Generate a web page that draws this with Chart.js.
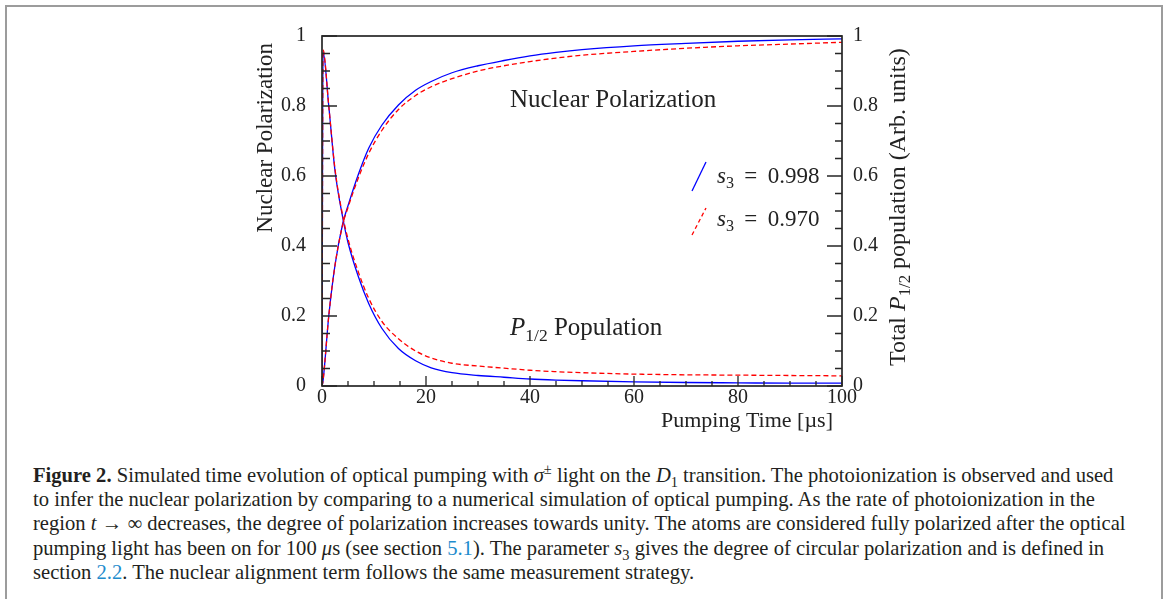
<!DOCTYPE html>
<html>
<head>
<meta charset="utf-8">
<script src="https://cdn.jsdelivr.net/npm/chart.js@4.4.1/dist/chart.umd.min.js"></script>
<style>
  html, body { margin: 0; padding: 0; overflow: hidden; background: #fff; }
  #frame { position: absolute; left: 5px; top: 5px; width: 1154px; height: 640px; border: 2px solid #9c9c9c; }
  #wrap { position: absolute; left: 0; top: 0; width: 1165px; height: 440px; }
  #caption {
    position: absolute; left: 33px; top: 463px;
    font-family: "Liberation Serif", serif; font-size: 20.6px; line-height: 24.2px;
    color: #231f20; white-space: nowrap;
  }
  #caption b { font-weight: bold; }
  #caption .ref { color: #1e8ccd; }
  #caption sup, #caption sub { font-size: 70%; line-height: 0; }
</style>
</head>
<body>
<div id="frame"></div>
<div id="wrap"><canvas id="chart" width="1165" height="440"></canvas></div>
<div id="caption">
  <div><b>Figure 2.</b> Simulated time evolution of optical pumping with <i>σ</i><sup>±</sup> light on the <i>D</i><sub>1</sub> transition. The photoionization is observed and used</div>
  <div>to infer the nuclear polarization by comparing to a numerical simulation of optical pumping. As the rate of photoionization in the</div>
  <div>region <i>t</i> → ∞ decreases, the degree of polarization increases towards unity. The atoms are considered fully polarized after the optical</div>
  <div>pumping light has been on for 100 <i>μ</i>s (see section <span class="ref">5.1</span>). The parameter <i>s</i><sub>3</sub> gives the degree of circular polarization and is defined in</div>
  <div>section <span class="ref">2.2</span>. The nuclear alignment term follows the same measurement strategy.</div>
</div>
<script>
// pumping time in microseconds
const pumpTime = [0, 0.2, 1.3, 2.5, 4, 5, 7, 9, 11.5, 14.7, 18, 21, 25, 30, 35, 40, 45, 50, 60, 70, 80, 90, 100];

// nuclear polarization
const polS998 = [0, 0.015, 0.2, 0.345, 0.465, 0.515, 0.605, 0.68, 0.745, 0.803, 0.845, 0.87, 0.895, 0.915, 0.93, 0.943, 0.953, 0.961, 0.972, 0.979, 0.985, 0.989, 0.992];
const polS970 = [0, 0.015, 0.2, 0.345, 0.462, 0.51, 0.595, 0.665, 0.73, 0.79, 0.83, 0.855, 0.878, 0.9, 0.915, 0.927, 0.937, 0.945, 0.956, 0.965, 0.972, 0.977, 0.982];

// total P1/2 population
const popS998 = [0, 0.955, 0.8, 0.615, 0.48, 0.41, 0.312, 0.235, 0.165, 0.107, 0.072, 0.052, 0.038, 0.03, 0.025, 0.02, 0.017, 0.015, 0.012, 0.01, 0.009, 0.008, 0.008];
const popS970 = [0, 0.96, 0.8, 0.62, 0.485, 0.42, 0.325, 0.25, 0.185, 0.135, 0.1, 0.08, 0.065, 0.057, 0.051, 0.045, 0.041, 0.038, 0.034, 0.032, 0.031, 0.03, 0.029];

const xTicks = [0, 20, 40, 60, 80, 100];
const yTicks = [0, 0.2, 0.4, 0.6, 0.8, 1];
const legendLabels = ["0.998", "0.970"];

const serif = '"Liberation Serif", serif';
const toPoints = ys => pumpTime.map((t, i) => ({ x: t, y: ys[i] }));

// draws text pieces one after another: [text, 'n' | 'i' | 'sub']
function drawRich(ctx, parts, x, y, size) {
  let cx = x;
  parts.forEach(([txt, kind]) => {
    if (kind === 'sub') {
      ctx.font = (size * 0.7) + 'px ' + serif;
      ctx.fillText(txt, cx, y + size * 0.22);
    } else {
      ctx.font = (kind === 'i' ? 'italic ' : '') + size + 'px ' + serif;
      ctx.fillText(txt, cx, y);
    }
    cx += ctx.measureText(txt).width;
  });
  return cx - x;
}

const framePlugin = {
  id: 'framePlugin',
  afterDatasetsDraw(chart) {
    const { ctx, chartArea: a, scales } = chart;
    ctx.save();
    ctx.strokeStyle = '#262626';
    ctx.lineWidth = 1.7;
    ctx.strokeRect(a.left, a.top, a.right - a.left, a.bottom - a.top);

    ctx.lineWidth = 1.3;
    ctx.beginPath();
    for (let i = 0; i <= 20; i++) {
      let y = scales.y.getPixelForValue(i * 0.05);
      ctx.moveTo(a.left, y);
      ctx.lineTo(a.left + (i % 4 === 0 ? 15 : 8), y);
      y = scales.y2.getPixelForValue(i * 0.05);
      ctx.moveTo(a.right, y);
      ctx.lineTo(a.right - (i % 4 === 0 ? 15 : 7), y);
      const x = scales.x.getPixelForValue(i * 5);
      ctx.moveTo(x, a.bottom);
      ctx.lineTo(x, a.bottom - (i % 4 === 0 ? 10 : 5));
    }
    ctx.stroke();

    ctx.fillStyle = '#222';
    ctx.textBaseline = 'alphabetic';
    ctx.textAlign = 'left';

    // annotations
    drawRich(ctx, [['Nuclear Polarization', 'n']], 510, 107, 25);
    drawRich(ctx, [['P', 'i'], ['1/2', 'sub'], [' Population', 'n']], 510, 335, 25);

    // legend
    ctx.lineWidth = 1.3;
    ctx.strokeStyle = '#0000ff';
    ctx.beginPath(); ctx.moveTo(692, 191); ctx.lineTo(706, 162); ctx.stroke();
    ctx.strokeStyle = '#ff0000';
    ctx.setLineDash([4, 3]);
    ctx.beginPath(); ctx.moveTo(692, 235); ctx.lineTo(706, 208); ctx.stroke();
    ctx.setLineDash([]);
    ctx.fillStyle = '#222';
    drawRich(ctx, [['s', 'i'], ['3', 'sub'], [' \u2009= \u2009' + legendLabels[0], 'n']], 717, 183, 23);
    drawRich(ctx, [['s', 'i'], ['3', 'sub'], [' \u2009= \u2009' + legendLabels[1], 'n']], 717, 226, 23);

    // x title
    ctx.textAlign = 'right';
    ctx.font = '22px ' + serif;
    ctx.fillText('Pumping Time [µs]', 833, 427);

    // left title
    ctx.save();
    ctx.translate(272, 43);
    ctx.rotate(-Math.PI / 2);
    ctx.textAlign = 'right';
    ctx.font = '23px ' + serif;
    ctx.fillText('Nuclear Polarization', 0, 0);
    ctx.restore();

    // right title
    ctx.save();
    ctx.translate(905, 366);
    ctx.rotate(-Math.PI / 2);
    ctx.textAlign = 'left';
    drawRich(ctx, [['Total ', 'n'], ['P', 'i'], ['1/2', 'sub'], [' population (Arb. units)', 'n']], 0, 0, 24);
    ctx.restore();

    ctx.restore();
  }
};

const tickFont = { family: serif, size: 20 };
const fmt = v => (v === 0 || v === 1) ? String(v) : Number(v).toFixed(1);

new Chart(document.getElementById('chart'), {
  type: 'line',
  data: {
    datasets: [
      { label: 'pol s3=0.970', data: toPoints(polS970), yAxisID: 'y', borderColor: '#ff0000', borderDash: [5, 3], borderWidth: 1.3 },
      { label: 'pop s3=0.970', data: toPoints(popS970), yAxisID: 'y2', borderColor: '#ff0000', borderDash: [5, 3], borderWidth: 1.3 },
      { label: 'pol s3=0.998', data: toPoints(polS998), yAxisID: 'y', borderColor: '#0000ff', borderWidth: 1.3 },
      { label: 'pop s3=0.998', data: toPoints(popS998), yAxisID: 'y2', borderColor: '#0000ff', borderWidth: 1.3 }
    ]
  },
  options: {
    responsive: false,
    animation: false,
    devicePixelRatio: 1,
    elements: { point: { radius: 0 }, line: { cubicInterpolationMode: 'monotone', fill: false } },
    layout: { padding: { top: 36, left: 0, right: 0, bottom: 0 } },
    plugins: { legend: { display: false }, tooltip: { enabled: false } },
    scales: {
      x: {
        type: 'linear', min: 0, max: 100,
        grid: { display: false, drawTicks: false },
        border: { display: false },
        ticks: { stepSize: 20, font: tickFont, color: '#222', padding: 0, maxRotation: 0 },
        afterBuildTicks: s => { s.ticks = xTicks.map(v => ({ value: v })); },
        afterFit: s => { s.height = 54; }
      },
      y: {
        position: 'left', min: 0, max: 1,
        grid: { display: false, drawTicks: false },
        border: { display: false },
        ticks: { font: tickFont, color: '#222', padding: 16, callback: fmt },
        afterBuildTicks: s => { s.ticks = yTicks.map(v => ({ value: v })); },
        afterFit: s => { s.width = 322; }
      },
      y2: {
        position: 'right', min: 0, max: 1,
        grid: { display: false, drawTicks: false },
        border: { display: false },
        ticks: { font: tickFont, color: '#222', padding: 11, callback: fmt },
        afterBuildTicks: s => { s.ticks = yTicks.map(v => ({ value: v })); },
        afterFit: s => { s.width = 323; }
      }
    }
  },
  plugins: [framePlugin]
});
</script>
</body>
</html>
